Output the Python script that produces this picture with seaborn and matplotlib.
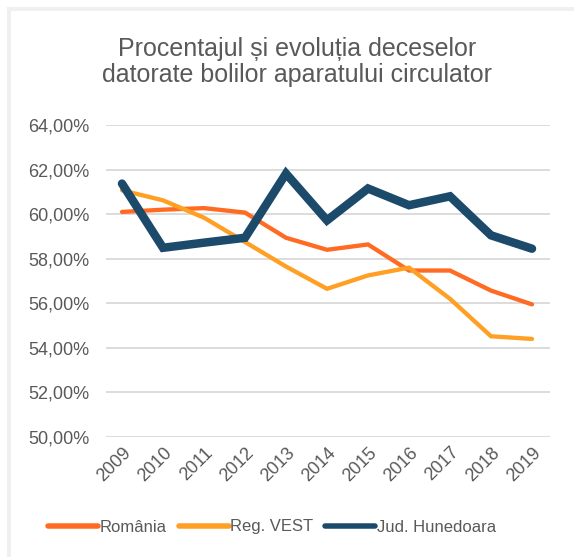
import pandas as pd
import matplotlib.pyplot as plt
import seaborn as sns
from matplotlib.patches import Rectangle
from matplotlib.ticker import FuncFormatter

# Data (percent)
years = [2009, 2010, 2011, 2012, 2013, 2014, 2015, 2016, 2017, 2018, 2019]
romania = [60.10, 60.20, 60.27, 60.07, 58.94, 58.40, 58.64, 57.47, 57.47, 56.57, 55.95]
reg_vest = [61.07, 60.62, 59.84, 58.75, 57.65, 56.65, 57.25, 57.60, 56.20, 54.52, 54.40]
hunedoara = [61.37, 58.49, 58.72, 58.94, 61.82, 59.72, 61.15, 60.40, 60.80, 59.05, 58.45]

series_names = ['România', 'Reg. VEST', 'Jud. Hunedoara']
colors = ['#FF6B22', '#FFA024', '#1B4A6B']
widths = [4.3, 4.3, 8.5]  # pixels

df = pd.DataFrame({
    'An': years * 3,
    'Procent': romania + reg_vest + hunedoara,
    'Serie': [n for n in series_names for _ in years],
})

sns.set_theme(style='white')
plt.rcParams['font.family'] = ['Liberation Sans', 'DejaVu Sans']
text_col = '#595959'

fig = plt.figure(figsize=(5.74, 5.57), dpi=100)
fig.patch.set_facecolor('white')
ax = fig.add_axes([106 / 574, 1 - 437 / 557, (550 - 106) / 574, (437 - 125) / 557])

for name, col, lw in zip(series_names, colors, widths):
    sub = df[df['Serie'] == name]
    sns.lineplot(data=sub, x='An', y='Procent', ax=ax, color=col,
                 linewidth=lw * 72 / 100, label=name,
                 solid_capstyle='round', solid_joinstyle='miter')

ax.set_xlim(2009 - 16 / 41, 2019 + 18 / 41)
ax.set_ylim(50, 64)
ax.set_yticks([50, 52, 54, 56, 58, 60, 62, 64])
ax.yaxis.set_major_formatter(FuncFormatter(lambda v, p: f'{v:.2f}%'.replace('.', ',')))
ax.set_xticks(years)
ax.set_xticklabels([str(y) for y in years], rotation=45, ha='right', va='top',
                   rotation_mode='anchor')
ax.tick_params(axis='x', colors=text_col, labelsize=13, length=0, pad=5)
ax.tick_params(axis='y', colors=text_col, labelsize=13, length=0, pad=12)
ax.grid(axis='y', color='#d9d9d9', linewidth=1.3)
ax.set_axisbelow(True)
for s in ax.spines.values():
    s.set_visible(False)
ax.set_xlabel('')
ax.set_ylabel('')

fig.text(297 / 574, 1 - 62 / 557, 'Procentajul și evoluția deceselor\ndatorate bolilor aparatului circulator',
         ha='center', va='center', fontsize=18, color=text_col, linespacing=1.15)

leg = ax.legend(loc='center', bbox_to_anchor=(272 / 574, 1 - 527 / 557),
                bbox_transform=fig.transFigure, ncol=3, frameon=False,
                fontsize=12, handlelength=3.0, handletextpad=0.1, columnspacing=0.7)
for t in leg.get_texts():
    t.set_color(text_col)
for h in leg.get_lines():
    h.set_solid_capstyle('round')
    h.set_linewidth(5.5 * 72 / 100)

# light grey frame around the chart area
fig.patches.append(Rectangle((8.5 / 574, -0.1), 2, 1.1 - 10 / 557 + 0.001,
                             transform=fig.transFigure, fill=False,
                             edgecolor='#f0f0f0', linewidth=4 * 72 / 100))

fig.savefig('out.png', dpi=100)
